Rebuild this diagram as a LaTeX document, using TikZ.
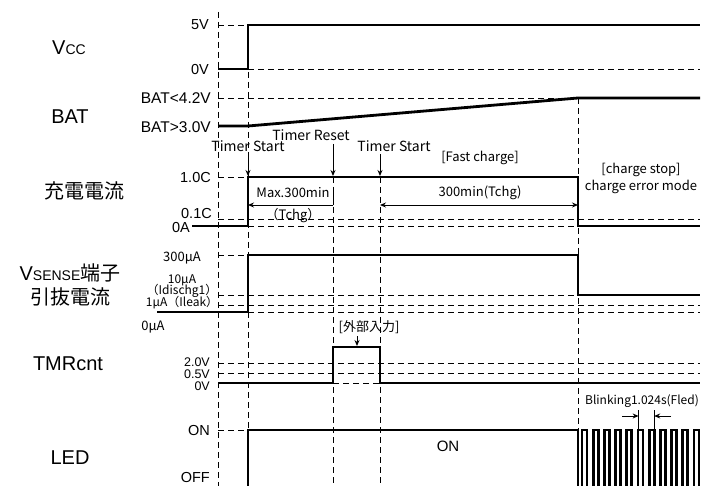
\documentclass[tikz,border=0pt]{standalone}
\usepackage{fontspec}
\setmainfont{Liberation Sans}
\newfontfamily\jpfont{Noto Sans CJK JP}
\usepackage{tikz}
\usetikzlibrary{arrows.meta}
\tikzset{
  sig/.style={line width=2.8pt,line join=miter},
  guide/.style={line width=0.9pt,dash pattern=on 6pt off 4pt},
  rowlbl/.style={font=\fontsize{20}{20}\selectfont,inner sep=0pt},
  jprowlbl/.style={font=\jpfont\fontsize{20}{20}\selectfont,inner sep=0pt},
  lvl/.style={anchor=east,font=\fontsize{14.5}{14.5}\selectfont,inner sep=0pt},
  smlvl/.style={anchor=east,font=\fontsize{12.5}{12.5}\selectfont,inner sep=0pt},
  jplvl/.style={font=\jpfont\fontsize{12}{12}\selectfont,inner sep=0pt},
  note/.style={font=\jpfont\fontsize{13}{13}\selectfont,inner sep=0pt},
  evarrow/.style={-{Stealth[length=6pt,width=5pt]},line width=0.9pt}
}
\begin{document}
\begin{tikzpicture}[x=1pt,y=-1pt]
  \useasboundingbox (0,0) rectangle (709,486);

  % Row names
  \node[rowlbl] (vcc) at (69,48) {V{\fontsize{14}{14}\selectfont CC}};
  \node[rowlbl] (bat) at (70,117) {BAT};
  \node[jprowlbl] (ichg) at (84,191) {充電電流};
  \node[rowlbl] (vsense) at (70,273) {V{\fontsize{14}{14}\selectfont SENSE}{\jpfont 端子}};
  \node[jprowlbl] (ipull) at (70,297) {引抜電流};
  \node[rowlbl] (tmr) at (68,364) {TMRcnt};
  \node[rowlbl] (led) at (70,458) {LED};

  % Level labels
  \node[lvl] (v5) at (209,25) {5V};
  \node[lvl] (v0) at (209,70) {0V};
  \node[lvl,font=\fontsize{15.5}{15.5}\selectfont] (bhi) at (211,98) {BAT<4.2V};
  \node[lvl,font=\fontsize{15.5}{15.5}\selectfont] (blo) at (211,127) {BAT>3.0V};
  \node[lvl] (c10) at (211,178) {1.0C};
  \node[lvl] (c01) at (212,214) {0.1C};
  \node[lvl] (a0) at (190,228) {0A};
  \node[jplvl,font=\jpfont\fontsize{13}{13}\selectfont] (u300) at (182,258) {300µA};
  \node[jplvl] (u10) at (182,280) {10µA};
  \node[jplvl] (udis) at (182,291) {（Idischg1）};
  \node[jplvl] (uleak) at (182,303) {1µA（Ileak）};
  \node[jplvl,font=\jpfont\fontsize{13}{13}\selectfont] (u0) at (153,327) {0µA};
  \node[smlvl] (t20) at (210,362) {2.0V};
  \node[smlvl] (t05) at (210,374) {0.5V};
  \node[smlvl] (t00) at (210,386) {0V};
  \node[lvl] (on) at (210,431) {ON};
  \node[lvl] (off) at (210,478) {OFF};

  % Vertical guides
  \draw[guide] (218,12) -- (218,486);
  \draw[guide] (248,72) -- (248,486);
  \draw[guide] (333,177) -- (333,486);
  \draw[guide] (380,177) -- (380,486);
  \draw[guide] (578,98) -- (578,486);

  % Horizontal guides
  \draw[guide] (218,25) -- (248,25);
  \draw[guide] (248,69) -- (700,69);
  \draw[guide] (218,98) -- (578,98);
  \draw[guide] (218,177) -- (248,177);
  \draw[guide] (218,219) -- (700,219);
  \draw[guide] (248,226) -- (578,226);
  \draw[guide] (218,255) -- (248,255);
  \draw[guide] (218,295) -- (578,295);
  \draw[guide] (218,305) -- (700,305);
  \draw[guide] (248,312) -- (700,312);
  \draw[guide] (218,363) -- (700,363);
  \draw[guide] (218,373) -- (700,373);
  \draw[guide] (333,383) -- (380,383);
  \draw[guide] (218,430) -- (248,430);

  % Signals
  \draw[sig] (218,69) -- (248,69) -- (248,25) -- (700,25);
  \draw[sig] (218,126) -- (248,126) -- (578,98) -- (700,98);
  \draw[sig] (a0.east) ++(2,-2) -- (248,226) -- (248,177) -- (578,177) -- (578,226) -- (700,226);
  \draw[sig] (157,312) -- (248,312) -- (248,255) -- (578,255) -- (578,295) -- (700,295);
  \draw[sig] (218,383) -- (333,383) -- (333,347) -- (380,347) -- (380,383) -- (700,383);
  \draw[sig] (248,486) -- (248,430) -- (578,430) -- (578,486);
  \foreach \k in {0,...,10}
    \draw[sig] ({582+11.2*\k},486) -- ++(0,-56) -- ++(5,0) -- ++(0,56);

  % Timer events
  \node[note,font=\jpfont\fontsize{14}{14}\selectfont] (ts1) at (248,146) {Timer Start};
  \node[note,font=\jpfont\fontsize{14}{14}\selectfont] (trs) at (311,135) {Timer Reset};
  \node[note,font=\jpfont\fontsize{14}{14}\selectfont] (ts2) at (394,146) {Timer Start};
  \coordinate (ts1tip) at (248,176);
  \coordinate (trstip) at (333,176);
  \coordinate (ts2tip) at (380,176);
  \draw[evarrow] (248,154) -- (ts1tip);
  \draw[evarrow] (333,144) -- (trstip);
  \draw[evarrow] (380,154) -- (ts2tip);
  \node[note] (fast) at (480,158) {[Fast charge]};

  % Charge timer
  \node[note] (max) at (293,193) {Max.300min};
  \node[note] (tchg1) at (293,216) {（Tchg）};
  \coordinate (m1) at (248,205);
  \coordinate (m2) at (333,205);
  \draw[evarrow] (m2) -- (m1);
  \draw[line width=0.9pt] (333,187) -- (m2);
  \node[note] (tchg2) at (480,193) {300min(Tchg)};
  \coordinate (n1) at (380,205);
  \coordinate (n2) at (578,205);
  \draw[evarrow,{Stealth[length=6pt,width=5pt]}-{Stealth[length=6pt,width=5pt]}] (n1) -- (n2);
  \node[note] (stop) at (641,170) {[charge stop]};
  \node[note] (err) at (641,187) {charge error mode};

  % External input
  \node[note] (ext) at (369,327) {[外部入力]};
  \draw[evarrow] (357,336) -- (357,346);

  % LED
  \node[note,font=\fontsize{15}{15}\selectfont] (lon) at (448,446) {ON};
  \node[note,font=\jpfont\fontsize{12}{12}\selectfont] (blink) at (642,401) {Blinking1.024s(Fled)};
  \coordinate (b1) at (638.6,416);
  \coordinate (b2) at (654.2,416);
  \draw[evarrow] (622,416) -- (b1);
  \draw[evarrow] (671,416) -- (b2);
  \draw[line width=0.9pt] (638.6,410) -- (638.6,430);
  \draw[line width=0.9pt] (654.2,410) -- (654.2,430);
\end{tikzpicture}
\end{document}
